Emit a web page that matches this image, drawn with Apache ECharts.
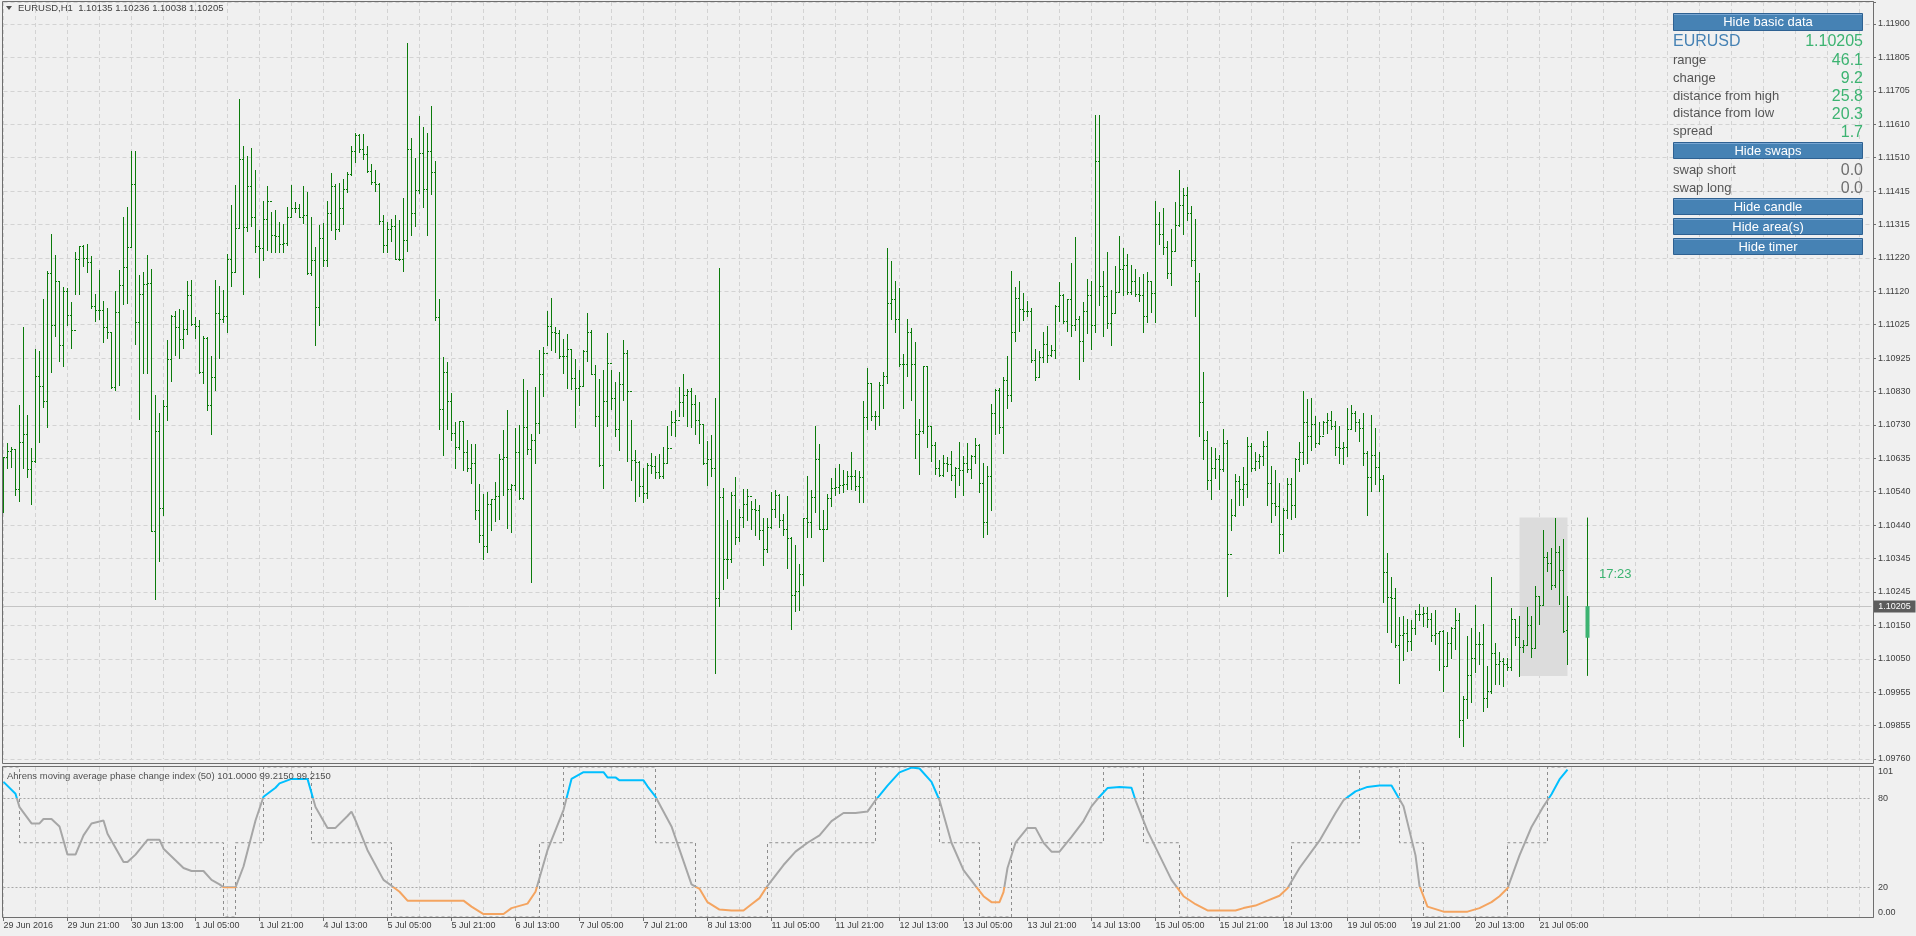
<!DOCTYPE html>
<html><head><meta charset="utf-8">
<script src="https://cdn.jsdelivr.net/npm/echarts@6/dist/echarts.min.js"></script>
<style>html,body{margin:0;padding:0;background:#f0f0f0;overflow:hidden}#c{width:1916px;height:936px}</style>
</head><body><div id="c"></div><script>
// ---------- data ----------
const chartTitle = 'EURUSD,H1  1.10135 1.10236 1.10038 1.10205';
const indicatorTitle = 'Ahrens moving average phase change index (50) 101.0000 99.2150 99.2150';
const bid = 1.10205;
const opens = [
1.10560,1.10638,1.10656,1.10663,1.10545,1.10684,1.10706,1.10604,1.10629,1.10875,
1.10847,1.10801,1.11176,1.11025,1.11153,1.10964,1.11124,1.11054,1.11008,1.11217,
1.11254,1.11220,1.11208,1.11080,1.11067,1.11067,1.11018,1.11004,1.10844,1.11061,
1.11141,1.11193,1.11252,1.11434,1.11031,1.11115,1.11144,1.11147,1.10425,1.10716,
1.10491,1.10787,1.10926,1.11050,1.11018,1.10983,1.11012,1.11110,1.11026,1.11021,
1.10886,1.10985,1.10790,1.10873,1.11058,1.11041,1.11049,1.11217,1.11179,1.11306,
1.11506,1.11308,1.11429,1.11339,1.11255,1.11248,1.11331,1.11386,1.11286,1.11282,
1.11260,1.11262,1.11339,1.11365,1.11363,1.11338,1.11343,1.11176,1.11214,1.11075,
1.11278,1.11214,1.11349,1.11427,1.11302,1.11363,1.11419,1.11462,1.11529,1.11578,
1.11537,1.11522,1.11473,1.11441,1.11435,1.11325,1.11258,1.11302,1.11311,1.11217,
1.11217,1.11270,1.11537,1.11350,1.11416,1.11525,1.11420,1.11531,1.11469,1.11046,
1.10778,1.10886,1.10801,1.10709,1.10667,1.10743,1.10654,1.10607,1.10621,1.10484,
1.10412,1.10381,1.10503,1.10516,1.10527,1.10634,1.10638,1.10546,1.10558,1.10654,
1.10520,1.10726,1.10663,1.10690,1.10737,1.10880,1.10941,1.11021,1.11002,1.10999,
1.10932,1.10932,1.10955,1.10869,1.10839,1.10846,1.10947,1.11004,1.10881,1.10760,
1.10617,1.10802,1.10912,1.10812,1.10720,1.10853,1.10943,1.10832,1.10630,1.10626,
1.10554,1.10534,1.10615,1.10613,1.10596,1.10584,1.10623,1.10665,1.10740,1.10747,
1.10800,1.10821,1.10831,1.10794,1.10747,1.10735,1.10621,1.10633,1.10608,1.10230,
1.10523,1.10343,1.10343,1.10530,1.10405,1.10465,1.10503,1.10526,1.10488,1.10485,
1.10428,1.10370,1.10435,1.10488,1.10530,1.10457,1.10430,1.10404,1.10237,1.10248,
1.10300,1.10462,1.10449,1.10523,1.10633,1.10431,1.10430,1.10520,1.10550,1.10552,
1.10557,1.10562,1.10584,1.10584,1.10554,1.10581,1.10756,1.10855,1.10760,1.10760,
1.10848,1.10874,1.11087,1.11100,1.11042,1.10911,1.10911,1.11002,1.10909,1.10705,
1.10716,1.10903,1.10731,1.10675,1.10608,1.10588,1.10623,1.10619,1.10588,1.10606,
1.10602,1.10623,1.10604,1.10641,1.10675,1.10565,1.10450,1.10583,1.10766,1.10835,
1.10728,1.10863,1.10819,1.11003,1.11103,1.11071,1.11064,1.11063,1.10923,1.10871,
1.10931,1.10969,1.10936,1.10950,1.11080,1.11110,1.11034,1.11100,1.11023,1.11041,
1.10978,1.11064,1.11111,1.11023,1.11502,1.11138,1.11109,1.11029,1.11058,1.11121,
1.11186,1.11198,1.11121,1.11153,1.11115,1.11110,1.11050,1.11152,1.11117,1.11317,
1.11290,1.11250,1.11174,1.11240,1.11315,1.11374,1.11401,1.11349,1.11213,1.11151,
1.10800,1.10690,1.10571,1.10608,1.10634,1.10604,1.10680,1.10358,1.10470,1.10568,
1.10545,1.10561,1.10672,1.10606,1.10627,1.10641,1.10671,1.10564,1.10504,1.10497,
1.10415,1.10484,1.10561,1.10500,1.10634,1.10653,1.10741,1.10701,1.10735,1.10679,
1.10699,1.10740,1.10748,1.10730,1.10669,1.10665,1.10669,1.10721,1.10768,1.10741,
1.10724,1.10652,1.10581,1.10645,1.10611,1.10575,1.10305,1.10232,1.10228,1.10091,
1.10121,1.10127,1.10104,1.10141,1.10183,1.10181,1.10184,1.10167,1.10121,1.10126,
1.10133,1.10032,1.10099,1.10141,1.10165,1.09874,1.09935,1.10004,1.10054,1.10095,
1.10095,1.09938,1.09958,1.10068,1.10038,1.10046,1.10036,1.10028,1.10167,1.10114,
1.10087,1.10091,1.10150,1.10084,1.10234,1.10209,1.10348,1.10331,1.10267,1.10363,
1.10310,1.10135];
const highs = [
1.10638,1.10680,1.10669,1.10663,1.10791,1.11018,1.10763,1.10665,1.10953,1.10949,
1.11100,1.11180,1.11290,1.11228,1.11153,1.11134,1.11130,1.11090,1.11235,1.11255,
1.11256,1.11259,1.11224,1.11115,1.11183,1.11094,1.11072,1.11004,1.11122,1.11183,
1.11338,1.11368,1.11530,1.11530,1.11168,1.11178,1.11226,1.11187,1.10820,1.10767,
1.10805,1.10980,1.11054,1.11063,1.11069,1.11067,1.11151,1.11155,1.11046,1.11037,
1.10991,1.10988,1.10934,1.11155,1.11136,1.11126,1.11229,1.11372,1.11431,1.11682,
1.11545,1.11515,1.11540,1.11475,1.11300,1.11384,1.11427,1.11354,1.11358,1.11324,
1.11317,1.11368,1.11431,1.11381,1.11377,1.11427,1.11412,1.11338,1.11251,1.11315,
1.11320,1.11385,1.11466,1.11434,1.11437,1.11449,1.11468,1.11544,1.11582,1.11579,
1.11579,1.11544,1.11493,1.11475,1.11437,1.11344,1.11324,1.11332,1.11343,1.11330,
1.11392,1.11846,1.11569,1.11510,1.11632,1.11601,1.11582,1.11660,1.11500,1.11100,
1.10930,1.10916,1.10825,1.10740,1.10745,1.10744,1.10690,1.10676,1.10676,1.10561,
1.10531,1.10538,1.10518,1.10566,1.10648,1.10718,1.10777,1.10560,1.10723,1.10732,
1.10866,1.10835,1.10705,1.10842,1.10950,1.10961,1.11065,1.11102,1.11019,1.11008,
1.10983,1.10996,1.10955,1.10926,1.10893,1.10950,1.11058,1.11008,1.10907,1.10866,
1.10894,1.10999,1.10894,1.10858,1.10886,1.10981,1.10950,1.10747,1.10659,1.10629,
1.10608,1.10622,1.10652,1.10642,1.10649,1.10669,1.10729,1.10774,1.10775,1.10842,
1.10882,1.10836,1.10839,1.10819,1.10798,1.10732,1.10686,1.10703,1.10812,1.11191,
1.10550,1.10457,1.10537,1.10581,1.10489,1.10547,1.10547,1.10512,1.10518,1.10500,
1.10462,1.10462,1.10538,1.10543,1.10531,1.10473,1.10527,1.10405,1.10382,1.10329,
1.10463,1.10584,1.10542,1.10731,1.10678,1.10486,1.10533,1.10577,1.10606,1.10618,
1.10602,1.10598,1.10653,1.10602,1.10598,1.10802,1.10897,1.10856,1.10772,1.10859,
1.10886,1.11248,1.11209,1.11151,1.11132,1.10938,1.11041,1.11015,1.10973,1.10749,
1.10904,1.10904,1.10731,1.10684,1.10631,1.10644,1.10640,1.10657,1.10611,1.10684,
1.10641,1.10680,1.10644,1.10696,1.10678,1.10623,1.10612,1.10793,1.10836,1.10839,
1.10873,1.10934,1.11182,1.11133,1.11153,1.11118,1.11094,1.11072,1.10954,1.10949,
1.11003,1.11021,1.10964,1.11083,1.11149,1.11113,1.11100,1.11205,1.11279,1.11050,
1.11090,1.11157,1.11151,1.11635,1.11635,1.11180,1.11236,1.11125,1.11195,1.11283,
1.11247,1.11231,1.11197,1.11186,1.11162,1.11171,1.11179,1.11151,1.11384,1.11353,
1.11365,1.11267,1.11304,1.11382,1.11475,1.11422,1.11426,1.11370,1.11332,1.11174,
1.10888,1.10714,1.10668,1.10665,1.10644,1.10720,1.10688,1.10518,1.10591,1.10584,
1.10611,1.10698,1.10679,1.10654,1.10649,1.10686,1.10714,1.10612,1.10600,1.10565,
1.10491,1.10579,1.10579,1.10635,1.10683,1.10832,1.10808,1.10812,1.10758,1.10740,
1.10743,1.10767,1.10774,1.10744,1.10729,1.10682,1.10782,1.10791,1.10774,1.10749,
1.10767,1.10657,1.10762,1.10724,1.10654,1.10587,1.10360,1.10290,1.10257,1.10172,
1.10175,1.10169,1.10164,1.10195,1.10210,1.10204,1.10202,1.10186,1.10195,1.10133,
1.10135,1.10131,1.10145,1.10199,1.10184,1.09943,1.10119,1.10142,1.10209,1.10130,
1.10154,1.10032,1.10290,1.10097,1.10072,1.10053,1.10055,1.10200,1.10168,1.10175,
1.10107,1.10203,1.10176,1.10263,1.10234,1.10427,1.10363,1.10374,1.10463,1.10381,
1.10402,1.10236];
const lows = [
1.10480,1.10608,1.10611,1.10530,1.10511,1.10606,1.10581,1.10501,1.10625,1.10684,
1.10785,1.10728,1.10886,1.10991,1.10920,1.10903,1.11025,1.10957,1.11115,1.11115,
1.11194,1.11178,1.11072,1.11034,1.11042,1.10973,1.10985,1.10839,1.10833,1.10850,
1.11086,1.11088,1.11250,1.10969,1.10751,1.10884,1.10884,1.10425,1.10225,1.10337,
1.10469,1.10748,1.10861,1.10936,1.10927,1.10958,1.10996,1.11023,1.10985,1.10884,
1.10856,1.10775,1.10705,1.10835,1.10927,1.11031,1.11003,1.11138,1.11179,1.11308,
1.11113,1.11296,1.11311,1.11237,1.11164,1.11214,1.11243,1.11237,1.11235,1.11237,
1.11237,1.11258,1.11340,1.11354,1.11338,1.11320,1.11172,1.11170,1.10964,1.11023,
1.11195,1.11195,1.11300,1.11275,1.11296,1.11319,1.11412,1.11461,1.11499,1.11526,
1.11507,1.11468,1.11435,1.11415,1.11317,1.11237,1.11237,1.11267,1.11216,1.11213,
1.11182,1.11240,1.11287,1.11313,1.11407,1.11368,1.11286,1.11404,1.11038,1.10720,
1.10644,1.10721,1.10690,1.10608,1.10663,1.10600,1.10598,1.10564,1.10459,1.10392,
1.10341,1.10362,1.10428,1.10454,1.10459,1.10530,1.10434,1.10420,1.10542,1.10518,
1.10516,1.10648,1.10274,1.10622,1.10709,1.10816,1.10965,1.10951,1.10945,1.10927,
1.10884,1.10839,1.10836,1.10726,1.10791,1.10850,1.10919,1.10880,1.10729,1.10613,
1.10550,1.10729,1.10778,1.10699,1.10659,1.10806,1.10629,1.10573,1.10511,1.10526,
1.10509,1.10520,1.10592,1.10577,1.10579,1.10579,1.10622,1.10703,1.10699,1.10758,
1.10760,1.10730,1.10728,1.10707,1.10680,1.10618,1.10557,1.10584,1.10009,1.10205,
1.10256,1.10286,1.10335,1.10385,1.10394,1.10435,1.10457,1.10430,1.10411,1.10401,
1.10324,1.10362,1.10434,1.10466,1.10436,1.10412,1.10316,1.10139,1.10190,1.10195,
1.10268,1.10407,1.10405,1.10478,1.10430,1.10337,1.10430,1.10497,1.10530,1.10535,
1.10537,1.10547,1.10547,1.10543,1.10509,1.10507,1.10720,1.10747,1.10720,1.10732,
1.10782,1.10856,1.11042,1.11004,1.10903,1.10783,1.10874,1.10805,1.10635,1.10591,
1.10709,1.10669,1.10629,1.10591,1.10584,1.10584,1.10599,1.10571,1.10522,1.10557,
1.10530,1.10595,1.10577,1.10622,1.10538,1.10405,1.10415,1.10484,1.10707,1.10709,
1.10652,1.10781,1.10802,1.10978,1.11007,1.11038,1.11050,1.10917,1.10863,1.10873,
1.10917,1.10915,1.10934,1.10928,1.11036,1.11029,1.11006,1.10991,1.11008,1.10867,
1.10919,1.10999,1.10953,1.11004,1.11083,1.10993,1.11014,1.10964,1.11060,1.11121,
1.11110,1.11113,1.11113,1.11109,1.11094,1.11003,1.11033,1.11061,1.11033,1.11259,
1.11231,1.11160,1.11140,1.11240,1.11311,1.11290,1.11330,1.11194,1.11049,1.10699,
1.10633,1.10547,1.10516,1.10577,1.10545,1.10598,1.10236,1.10428,1.10468,1.10500,
1.10500,1.10524,1.10598,1.10602,1.10608,1.10617,1.10499,1.10450,1.10470,1.10359,
1.10365,1.10461,1.10459,1.10466,1.10599,1.10619,1.10622,1.10659,1.10668,1.10676,
1.10707,1.10709,1.10720,1.10646,1.10622,1.10619,1.10641,1.10720,1.10714,1.10686,
1.10615,1.10469,1.10541,1.10562,1.10541,1.10218,1.10131,1.10102,1.10087,1.09980,
1.10049,1.10074,1.10077,1.10123,1.10165,1.10148,1.10144,1.10104,1.10096,1.10019,
1.09958,1.10032,1.10055,1.10080,1.09825,1.09798,1.09879,1.09925,1.10012,1.10037,
1.09901,1.09910,1.09951,1.09977,1.09977,1.09974,1.10019,1.10019,1.10093,1.10002,
1.10072,1.10091,1.10058,1.10085,1.10154,1.10207,1.10308,1.10256,1.10261,1.10211,
1.10130,1.10038];
const closes = [
1.10638,1.10656,1.10663,1.10545,1.10684,1.10706,1.10604,1.10629,1.10875,1.10847,
1.10801,1.11176,1.11025,1.11153,1.10964,1.11124,1.11054,1.11008,1.11217,1.11254,
1.11220,1.11208,1.11080,1.11067,1.11067,1.11018,1.11004,1.10844,1.11061,1.11141,
1.11193,1.11252,1.11434,1.11031,1.11115,1.11144,1.11147,1.10425,1.10716,1.10491,
1.10787,1.10926,1.11050,1.11018,1.10983,1.11012,1.11110,1.11026,1.11021,1.10886,
1.10985,1.10790,1.10873,1.11058,1.11041,1.11049,1.11217,1.11179,1.11306,1.11506,
1.11308,1.11429,1.11339,1.11255,1.11248,1.11331,1.11386,1.11286,1.11282,1.11260,
1.11262,1.11339,1.11365,1.11363,1.11338,1.11343,1.11176,1.11214,1.11075,1.11278,
1.11214,1.11349,1.11427,1.11302,1.11363,1.11419,1.11462,1.11529,1.11578,1.11537,
1.11522,1.11473,1.11441,1.11435,1.11325,1.11258,1.11302,1.11311,1.11217,1.11217,
1.11270,1.11537,1.11350,1.11416,1.11525,1.11420,1.11531,1.11469,1.11046,1.10778,
1.10886,1.10801,1.10709,1.10667,1.10743,1.10654,1.10607,1.10621,1.10484,1.10412,
1.10381,1.10503,1.10516,1.10527,1.10634,1.10638,1.10546,1.10558,1.10654,1.10520,
1.10726,1.10663,1.10690,1.10737,1.10880,1.10941,1.11021,1.11002,1.10999,1.10932,
1.10932,1.10955,1.10869,1.10839,1.10846,1.10947,1.11004,1.10881,1.10760,1.10617,
1.10802,1.10912,1.10812,1.10720,1.10853,1.10943,1.10832,1.10630,1.10626,1.10554,
1.10534,1.10615,1.10613,1.10596,1.10584,1.10623,1.10665,1.10740,1.10747,1.10800,
1.10821,1.10831,1.10794,1.10747,1.10735,1.10621,1.10633,1.10608,1.10230,1.10523,
1.10343,1.10343,1.10530,1.10405,1.10465,1.10503,1.10526,1.10488,1.10485,1.10428,
1.10370,1.10435,1.10488,1.10530,1.10457,1.10430,1.10404,1.10237,1.10248,1.10300,
1.10462,1.10449,1.10523,1.10633,1.10431,1.10430,1.10520,1.10550,1.10552,1.10557,
1.10562,1.10584,1.10584,1.10554,1.10581,1.10756,1.10855,1.10760,1.10760,1.10848,
1.10874,1.11087,1.11100,1.11042,1.10911,1.10911,1.11002,1.10909,1.10705,1.10716,
1.10903,1.10731,1.10675,1.10608,1.10588,1.10623,1.10619,1.10588,1.10606,1.10602,
1.10623,1.10604,1.10641,1.10675,1.10565,1.10450,1.10583,1.10766,1.10835,1.10728,
1.10863,1.10819,1.11003,1.11103,1.11071,1.11064,1.11063,1.10923,1.10871,1.10931,
1.10969,1.10936,1.10950,1.11080,1.11110,1.11034,1.11100,1.11023,1.11041,1.10978,
1.11064,1.11111,1.11023,1.11502,1.11138,1.11109,1.11029,1.11058,1.11121,1.11186,
1.11198,1.11121,1.11153,1.11115,1.11110,1.11050,1.11152,1.11117,1.11317,1.11290,
1.11250,1.11174,1.11240,1.11315,1.11374,1.11401,1.11349,1.11213,1.11151,1.10800,
1.10690,1.10571,1.10608,1.10634,1.10604,1.10680,1.10358,1.10470,1.10568,1.10545,
1.10561,1.10672,1.10606,1.10627,1.10641,1.10671,1.10564,1.10504,1.10497,1.10415,
1.10484,1.10561,1.10500,1.10634,1.10653,1.10741,1.10701,1.10735,1.10679,1.10699,
1.10740,1.10748,1.10730,1.10669,1.10665,1.10669,1.10721,1.10768,1.10741,1.10724,
1.10652,1.10581,1.10645,1.10611,1.10575,1.10305,1.10232,1.10228,1.10091,1.10121,
1.10127,1.10104,1.10141,1.10183,1.10181,1.10184,1.10167,1.10121,1.10126,1.10133,
1.10032,1.10099,1.10141,1.10165,1.09874,1.09935,1.10004,1.10054,1.10095,1.10095,
1.09938,1.09958,1.10068,1.10038,1.10046,1.10036,1.10028,1.10167,1.10114,1.10087,
1.10091,1.10150,1.10084,1.10234,1.10209,1.10348,1.10331,1.10267,1.10363,1.10310,
1.10133,1.10205];
// daily candle drawn 5 slots right of the last bar, and the day's high/low box
const dayCandle = {slot: 396, open: 1.10113, high: 1.10463, low: 1.10002, close: 1.10205};
const dayBox = {fromBar: 379, toBar: 391, low: 1.10002, high: 1.10463};
const timerText = '17:23';
// indicator: [bar index, value]
const phaseIndex = [[0,91],[3,83],[4,74],[7,63],[9,63],[10,66],[12,66],[14,61],[16,42],[18,42],[20,55],[22,63],[25,65],[26,56],[30,37],[31,37],[33,42],[36,52],[39,52],[40,46],[45,33],[47,31],[50,31],[52,25],[54,22],[55,20],[58,20],[60,34],[63,65],[65,81],[68,87],[69,90],[72,93],[76,93],[78,74],[81,60],[83,60],[86,68],[87,71],[88,65],[91,45],[95,25],[97,21],[99,17],[101,11],[115,11],[117,7],[120,2],[125,2],[127,6],[131,9],[133,17],[136,45],[140,72],[142,93],[145,97.5],[150,97.5],[151,94],[153,94],[154,92],[160,92],[161,88],[163,81],[167,61],[172,22],[174,19],[176,10],[179,5],[182,4.4],[185,4.4],[187,8.6],[189,12.7],[191,21],[195,35],[198,44],[201,50],[204,55],[207,64.6],[210,70],[213,70],[216,71],[218,78.6],[221,88.5],[224,97.4],[227,100.6],[229,100],[232,91],[234,78.6],[237,50],[240,31.6],[243,21],[245,14],[247,10],[249,10],[250,16.8],[251,33],[253,50],[256,60],[258,60],[260,50],[262,44],[264,44],[267,54],[270,64.6],[272,74.5],[274,81],[276,86.8],[279,87.6],[282,87],[283,78.6],[286,58],[289,41.5],[292,25],[295,14],[298,8.6],[301,4.4],[308,4.4],[310,6],[313,7.7],[316,11],[319,14.3],[321,19.3],[324,33],[329,51.4],[333,70],[335,78.6],[338,84.6],[341,87.6],[344,88.5],[347,88.5],[350,74.5],[353,41.5],[354,21],[356,7],[360,3.6],[366,3.6],[369,6],[372,10],[374,14],[376,19.3],[379,41.5],[382,60.6],[385,74.5],[387,82.7],[389,92.6],[391,99.2]];
const phaseState = [[0,101],[4,50],[55,0],[58,50],[65,101],[77,50],[97,0],[134,50],[140,101],[163,50],[173,0],[191,50],[218,101],[234,50],[244,0],[252,50],[275,101],[285,50],[294,0],[322,50],[339,101],[349,50],[355,0],[376,50],[386,101],[391,101]];
const levels = [20, 80];
const priceTickLabels = ['1.09760','1.09855','1.09955','1.10050','1.10150','1.10245','1.10345','1.10440','1.10540','1.10635','1.10730','1.10830','1.10925','1.11025','1.11120','1.11220','1.11315','1.11415','1.11510','1.11610','1.11705','1.11805','1.11900'];
const dateTickLabels = ['29 Jun 2016','29 Jun 21:00','30 Jun 13:00','1 Jul 05:00','1 Jul 21:00','4 Jul 13:00','5 Jul 05:00','5 Jul 21:00','6 Jul 13:00','7 Jul 05:00','7 Jul 21:00','8 Jul 13:00','11 Jul 05:00','11 Jul 21:00','12 Jul 13:00','13 Jul 05:00','13 Jul 21:00','14 Jul 13:00','15 Jul 05:00','15 Jul 21:00','18 Jul 13:00','19 Jul 05:00','19 Jul 21:00','20 Jul 13:00','21 Jul 05:00'];
const infoSymbol = 'EURUSD', infoPrice = '1.10205';
const infoLabels = ['range','change','distance from high','distance from low','spread'];
const infoValues = ['46.1','9.2','25.8','20.3','1.7'];
const swapLabels = ['swap short','swap long'];
const swapValues = ['0.0','0.0'];
const buttonTexts = ['Hide basic data','Hide swaps','Hide candle','Hide area(s)','Hide timer'];

// ---------- chart ----------
const FONT = '"Liberation Sans", Arial, sans-serif';
const BAR = '#0b7b0b';
const SLOTS = 468;
const slots = Array.from({length: SLOTS}, (_, i) => String(i));
const yMin = 1.09760, yTop = 1.11900;
const yStep = (yTop - yMin) / (priceTickLabels.length - 1);
const yMax = yMin + yStep * 757 / 33.409;
const bars = highs.map((h, i) => [i, opens[i], h, lows[i], closes[i]]);

function renderBar(params, api) {
  const i = api.value(0);
  const pH = api.coord([i, api.value(2)]);
  const pL = api.coord([i, api.value(3)]);
  const yO = Math.round(api.coord([i, api.value(1)])[1]) + 0.5;
  const yC = Math.round(api.coord([i, api.value(4)])[1]) + 0.5;
  const x = Math.floor(pH[0]) + 0.5;
  const st = {stroke: BAR, lineWidth: 1};
  return {type: 'group', children: [
    {type: 'line', shape: {x1: x, y1: Math.round(pH[1]), x2: x, y2: Math.round(pL[1]) + 1}, style: st},
    {type: 'line', shape: {x1: x - 1.5, y1: yO, x2: x + 0.5, y2: yO}, style: st},
    {type: 'line', shape: {x1: x - 0.5, y1: yC, x2: x + 1.5, y2: yC}, style: st}
  ]};
}
function renderCandle(params, api) {
  const i = api.value(0);
  const pH = api.coord([i, api.value(2)]);
  const pL = api.coord([i, api.value(3)]);
  const yO = api.coord([i, api.value(1)])[1];
  const yC = api.coord([i, api.value(4)])[1];
  const x = Math.floor(pH[0]) + 0.5;
  return {type: 'group', children: [
    {type: 'line', shape: {x1: x, y1: pH[1], x2: x, y2: pL[1]}, style: {stroke: BAR, lineWidth: 1}},
    {type: 'rect', shape: {x: x - 2, y: Math.min(yO, yC), width: 4, height: Math.abs(yO - yC)}, style: {fill: '#3cb371'}}
  ]};
}
// horizontal bid line spanning the whole plot, drawn through the library's scales
function renderBid(params, api) {
  const p = api.coord([0, api.value(1)]);
  const y = Math.round(p[1]) + 0.5;
  const cs = params.coordSys;
  return {type: 'group', children: [
    {type: 'line', shape: {x1: cs.x - 1.5, y1: y, x2: cs.x + cs.width, y2: y}, style: {stroke: '#c4c4c4', lineWidth: 1}},
    {type: 'rect', shape: {x: cs.x + cs.width + 2, y: y - 6, width: 42, height: 12}, style: {fill: '#5c5c5c'}},
    {type: 'text', x: cs.x + cs.width + 23, y: y + 0.5, style: {text: api.value(1).toFixed(5), fill: '#ffffff',
      font: '9px ' + FONT, align: 'center', verticalAlign: 'middle'}}
  ]};
}

const gridLine = {show: true, lineStyle: {color: '#d3d3d3', type: [4, 3], width: 1}};
const vSplit = Object.assign({interval: (i) => i % 8 === 0}, gridLine);
const labelIdx = (i) => i % 16 === 0 && i / 16 < dateTickLabels.length;

// graphics: titles, frames, info panel
const G = [];
const txt = (x, y, text, size, color, align, extra) => G.push(Object.assign({type: 'text', x, y, z: 100,
  style: {text, fill: color, font: size + 'px ' + FONT, align: align || 'left', verticalAlign: 'middle'}}, extra || {}));
G.push({type: 'rect', z: 99, shape: {x: 2.5, y: 1.5, width: 1871, height: 762}, style: {fill: 'none', stroke: '#6e6e6e', lineWidth: 1}});
G.push({type: 'rect', z: 99, shape: {x: 2.5, y: 766.5, width: 1871, height: 151}, style: {fill: 'none', stroke: '#6e6e6e', lineWidth: 1}});
G.push({type: 'polygon', z: 100, shape: {points: [[6, 6], [12, 6], [9, 10]]}, style: {fill: '#505050'}});
txt(18, 8.5, chartTitle, 9.5, '#404040');
txt(7, 776, indicatorTitle, 9.5, '#505050');
const PX0 = 1673, PX1 = 1863;
function button(y, h, text) {
  G.push({type: 'rect', z: 100, shape: {x: PX0 + 0.5, y: y + 0.5, width: PX1 - PX0 - 1, height: h - 1}, style: {fill: '#4682b4', stroke: '#2e6192', lineWidth: 1}});
  G.push({type: 'line', z: 100, shape: {x1: PX0 + 1, y1: y + 1.5, x2: PX1 - 1, y2: y + 1.5}, style: {stroke: '#79a6d2', lineWidth: 1}});
  txt((PX0 + PX1) / 2, y + h / 2 + 0.5, text, 13, '#ffffff', 'center');
}
button(13, 18, buttonTexts[0]);
txt(PX0, 42, infoSymbol, 16, '#4682b4');
txt(PX1, 42, infoPrice, 16, '#3cb371', 'right');
const rowY = [60, 78, 96, 113.5, 131.5];
infoLabels.forEach((l, k) => { txt(PX0, rowY[k], l, 13, '#555555'); txt(PX1, rowY[k] + 1, infoValues[k], 16, '#3cb371', 'right'); });
button(142, 17, buttonTexts[1]);
const swapY = [170, 188];
swapLabels.forEach((l, k) => { txt(PX0, swapY[k], l, 13, '#555555'); txt(PX1, swapY[k] + 1, swapValues[k], 16, '#6e6e6e', 'right'); });
button(198, 17, buttonTexts[2]);
button(218, 17, buttonTexts[3]);
button(238, 17, buttonTexts[4]);
txt(1599, 574, timerText, 13, '#3cb371');

const chart = echarts.init(document.getElementById('c'), null, {renderer: 'canvas'});
chart.setOption({
  animation: false,
  backgroundColor: '#f0f0f0',
  textStyle: {fontFamily: FONT},
  grid: [
    {left: 3.5, top: 2, width: 1868, height: 757, outerBoundsMode: 'none', containLabel: false},
    {left: 3.5, top: 767, width: 1868, height: 150, outerBoundsMode: 'none', containLabel: false}
  ],
  xAxis: [
    {type: 'category', gridIndex: 0, data: slots, boundaryGap: false,
     axisLine: {show: false}, axisTick: {show: false}, axisLabel: {show: false}, splitLine: vSplit},
    {type: 'category', gridIndex: 1, data: slots, boundaryGap: false,
     axisLine: {show: true, lineStyle: {color: '#6e6e6e'}},
     axisTick: {show: true, interval: labelIdx, length: 4, lineStyle: {color: '#6e6e6e'}},
     axisLabel: {show: true, interval: labelIdx, formatter: (v, i) => dateTickLabels[i / 16] || '',
       align: 'left', margin: 4, fontSize: 9, color: '#404040', fontFamily: FONT, hideOverlap: false},
     splitLine: vSplit}
  ],
  yAxis: [
    {type: 'value', gridIndex: 0, position: 'right', offset: 1.5, min: yMin, max: yMax, interval: yStep, scale: true,
     axisLine: {show: true, lineStyle: {color: '#6e6e6e'}},
     axisTick: {show: true, length: 3, lineStyle: {color: '#6e6e6e'}},
     axisLabel: {margin: 5, fontSize: 9, color: '#404040', fontFamily: FONT, hideOverlap: false, showMaxLabel: true, showMinLabel: true,
       formatter: (v) => { const k = (v - yMin) / yStep, r = Math.round(k); return Math.abs(k - r) < 1e-3 ? (priceTickLabels[r] || '') : ''; }},
     splitLine: gridLine},
    {type: 'value', gridIndex: 1, position: 'right', offset: 1.5, min: 0, max: 101, interval: 20,
     axisLine: {show: true, lineStyle: {color: '#6e6e6e'}},
     axisTick: {show: false},
     axisLabel: {margin: 5, fontSize: 9, color: '#404040', fontFamily: FONT, showMaxLabel: true, showMinLabel: true,
       verticalAlignMaxLabel: 'top', verticalAlignMinLabel: 'bottom', hideOverlap: false,
       formatter: (v) => v === 0 ? '0.00' : (v >= 100.5 ? '101' : (levels.indexOf(v) >= 0 ? String(v) : ''))},
     splitLine: {show: false}}
  ],
  visualMap: {type: 'piecewise', show: false, seriesIndex: 4, dimension: 1,
    pieces: [{lte: 20, color: '#f4a460'}, {gt: 20, lte: 80, color: '#a6a6a6'}, {gt: 80, color: '#00bfff'}]},
  series: [
    {type: 'line', xAxisIndex: 0, yAxisIndex: 0, data: [[dayBox.toBar, dayBox.high]], symbol: 'none', lineStyle: {width: 0}, silent: true, z: 1,
     markArea: {silent: true, z: 1, itemStyle: {color: '#dcdcdc'},
       data: [[{xAxis: dayBox.fromBar, yAxis: dayBox.low}, {xAxis: dayBox.toBar, yAxis: dayBox.high}]]}},
    {type: 'custom', xAxisIndex: 0, yAxisIndex: 0, data: [[0, bid]], renderItem: renderBid, encode: {x: 0, y: 1}, silent: true, z: 2, clip: false},
    {type: 'custom', xAxisIndex: 0, yAxisIndex: 0, data: bars, renderItem: renderBar, encode: {x: 0, y: [1, 2, 3, 4]}, silent: true, z: 3},
    {type: 'custom', xAxisIndex: 0, yAxisIndex: 0, data: [[dayCandle.slot, dayCandle.open, dayCandle.high, dayCandle.low, dayCandle.close]],
     renderItem: renderCandle, encode: {x: 0, y: [1, 2, 3, 4]}, silent: true, z: 3},
    {type: 'line', xAxisIndex: 1, yAxisIndex: 1, data: phaseIndex, symbol: 'none', lineStyle: {width: 2}, silent: true, z: 4},
    {type: 'line', xAxisIndex: 1, yAxisIndex: 1, data: phaseState, step: 'end', symbol: 'none', silent: true, z: 3,
     lineStyle: {color: '#8e8e8e', width: 1, type: [3, 3]},
     markLine: {silent: true, symbol: ['none', 'none'], z: 2, label: {show: false},
       lineStyle: {color: '#a8a8a8', type: [2, 2], width: 1}, data: levels.map(v => ({yAxis: v}))}}
  ],
  graphic: G
});
</script></body></html>
